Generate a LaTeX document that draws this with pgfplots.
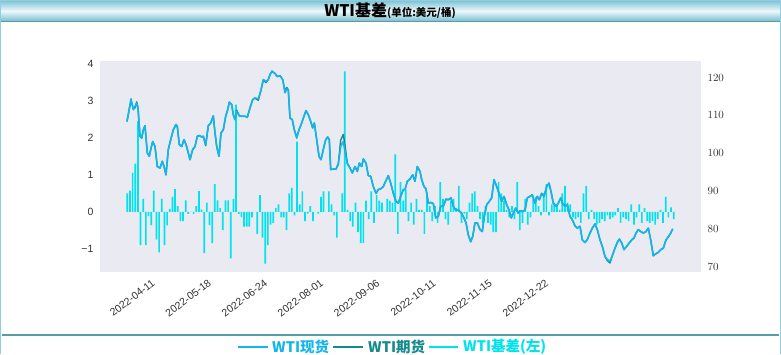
\documentclass[border=0pt]{standalone}
\usepackage{fontspec}
\setmainfont{Liberation Sans}
\newfontfamily\cjk{Noto Sans CJK SC}
\usepackage{pgfplots}
\usepackage{pgfplotstable}
\pgfplotsset{compat=1.18}
\definecolor{spotc}{RGB}{18,182,234}
\definecolor{futc}{RGB}{20,138,140}
\definecolor{basc}{RGB}{0,226,236}
\definecolor{bgc}{RGB}{234,234,242}
\definecolor{tickc}{RGB}{51,51,51}
\definecolor{framec}{RGB}{142,206,222}
\definecolor{sepc}{RGB}{88,156,166}
\definecolor{titletop}{RGB}{120,192,212}
\definecolor{titlemid}{RGB}{238,248,251}
\definecolor{titlebot}{RGB}{110,186,206}

\pgfplotstableread[row sep=\\]{
i v\\
0 0.5\\ 1 0.57\\ 2 1.05\\ 3 1.3\\ 4 2.45\\ 5 -0.9\\ 6 0.35\\ 7 -0.9\\ 8 -0.12\\ 9 -0.36\\
10 0.57\\ 11 -0.75\\ 12 -1.1\\ 13 0.35\\ 14 -0.9\\ 15 -0.37\\ 16 0.08\\ 17 0.4\\ 18 0.61\\ 19 0.15\\
20 -0.25\\ 21 -0.25\\ 22 0.31\\ 23 -0.06\\ 24 0\\ 25 -0.06\\ 26 0.15\\ 27 0.56\\ 28 0.06\\ 29 -1.12\\
30 0.25\\ 31 -0.36\\ 32 -0.85\\ 33 0.75\\ 34 0.31\\ 35 0.1\\ 36 -0.5\\ 37 0.31\\ 38 0.31\\ 39 -1.26\\
40 0.35\\ 41 2.9\\ 42 -0.06\\ 43 -0.14\\ 44 -0.4\\ 45 -0.4\\ 46 -0.4\\ 47 -0.15\\ 48 0\\ 49 -0.6\\
50 0.45\\ 51 -0.7\\ 52 -1.4\\ 53 -0.9\\ 54 -0.35\\ 55 -0.3\\ 56 0.1\\ 57 0.2\\ 58 -0.15\\ 59 -0.15\\
60 -0.5\\ 61 0.5\\ 62 0.65\\ 63 -0.1\\ 64 1.9\\ 65 0.2\\ 66 0.55\\ 67 -0.25\\ 68 -0.05\\ 69 0.15\\
70 -0.25\\ 71 0\\ 72 -0.05\\ 73 0.4\\ 74 0.55\\ 75 0\\ 76 0.55\\ 77 0.2\\ 78 -0.1\\ 79 -0.7\\
80 0\\ 81 0.5\\ 82 3.8\\ 83 0.05\\ 84 -0.25\\ 85 -0.4\\ 86 0.25\\ 87 -0.55\\ 88 -0.85\\ 89 -0.85\\
90 0.3\\ 91 -0.2\\ 92 0.55\\ 93 -0.3\\ 94 0.45\\ 95 0.3\\ 96 0.25\\ 97 0\\ 98 0.35\\ 99 0.3\\
100 0.25\\ 101 1.55\\ 102 -0.6\\ 103 0.8\\ 104 0.3\\ 105 0.6\\ 106 -0.25\\ 107 0.25\\ 108 -0.35\\ 109 0.35\\
110 0.05\\ 111 0.05\\ 112 -0.6\\ 113 0.5\\ 114 0.15\\ 115 -0.25\\ 116 0.15\\ 117 -0.3\\ 118 0.8\\ 119 0.35\\
120 -0.2\\ 121 -0.35\\ 122 0.3\\ 123 0.35\\ 124 0.1\\ 125 0.7\\ 126 -0.3\\ 127 -0.05\\ 128 -0.2\\ 129 0.25\\
130 0.5\\ 131 0.55\\ 132 0.15\\ 133 -0.2\\ 134 -0.3\\ 135 0.15\\ 136 -0.3\\ 137 -0.35\\ 138 -0.55\\ 139 -0.55\\
140 0.8\\ 141 0.5\\ 142 0.3\\ 143 0.05\\ 144 -0.15\\ 145 0.15\\ 146 -0.2\\ 147 0.8\\ 148 -0.5\\ 149 -0.3\\
150 0.35\\ 151 -0.35\\ 152 -0.15\\ 153 0.35\\ 154 0.4\\ 155 0.15\\ 156 -0.1\\ 157 0.5\\ 158 0.75\\ 159 -0.1\\
160 0.2\\ 161 0.25\\ 162 0.2\\ 163 0.05\\ 164 0.5\\ 165 0.7\\ 166 0.25\\ 167 0.2\\ 168 -0.15\\ 169 -0.2\\
170 -0.15\\ 171 -0.3\\ 172 0.5\\ 173 0.7\\ 174 -0.2\\ 175 0.05\\ 176 -0.2\\ 177 -0.35\\ 178 -0.3\\ 179 -0.2\\
180 -0.25\\ 181 -0.1\\ 182 -0.2\\ 183 -0.15\\ 184 -0.1\\ 185 0.1\\ 186 -0.3\\ 187 -0.15\\ 188 -0.2\\ 189 -0.25\\
190 0.2\\ 191 -0.35\\ 192 -0.15\\ 193 0.2\\ 194 -0.3\\ 195 0.1\\ 196 -0.25\\ 197 -0.3\\ 198 -0.25\\ 199 -0.35\\
200 -0.2\\ 201 0.05\\ 202 -0.3\\ 203 0.4\\ 204 -0.15\\ 205 0.12\\ 206 -0.2\\
}\bars

\pgfplotstableread[row sep=\\]{
x s f\\
127 108.4 108.4\\ 131 114.4 114.0\\ 133.3 111.5 111.8\\ 135 112.4 112.0\\ 136.7 113.3 113.6\\
138 112 112\\ 140 104.5 104.5\\ 141.7 104 104\\ 143.3 106.2 106.2\\ 145 107.3 107.3\\
147.3 100.1 100.1\\ 149.3 99.2 99.2\\ 150.7 101 101\\ 152.7 103.1 103.1\\ 155 101.8 101.8\\
157.3 96.5 96.5\\ 160 96.1 96.1\\ 162.3 97.9 97.9\\ 164 96.5 96.5\\ 166 94.3 94.3\\
168.3 101 101\\ 170.7 103.6 103.6\\ 173.3 106.2 106.2\\ 176 107.6 107.6\\ 177.3 107.1 107.1\\
179.3 102.3 102.3\\ 181.7 101.8 101.8\\ 184 103.6 103.6\\ 186 102.3 102.3\\ 188.3 100.1 100.1\\
190 98.3 98.3\\ 192.7 101 101\\ 195 101.8 101.8\\ 197.3 104.5 104.5\\ 199.3 104.7 104.7\\
201.7 104.3 104.3\\ 203.3 104.5 104.5\\ 205.7 102.3 102.0\\ 208.3 107.3 107.3\\ 210.7 108 108\\
213.3 109.9 109.9\\ 215 105.4 105.4\\ 216.7 101.8 101.8\\ 219 99.2 99.2\\ 221 105.4 105.4\\
223.3 106.2 106.2\\ 225.7 109.8 109.8\\ 227.7 111.5 111.5\\ 229.3 113.5 113.5\\ 231.7 112.9 112.9\\
233.3 110.2 110.2\\ 235 108.9 108.9\\ 236.7 111.1 111.4\\ 239.3 109.9 109.9\\ 241.7 109.8 109.8\\
245 109.8 109.8\\ 247.3 109.5 109.5\\ 250 112 112\\ 252.7 114.2 114.2\\ 255 114.6 114.6\\
258.3 114.4 114.0\\ 260.7 116.4 116.4\\ 263.3 119.5 119.3\\ 266 119 118.7\\ 268.3 119.5 119.5\\
270 120.8 120.8\\ 272 121.7 121.7\\ 275 121.1 121.1\\ 277.3 120.3 120.3\\ 280 120.5 120.5\\
282.7 119.5 119.5\\ 285 116 116.4\\ 286.7 117 117.4\\ 288.3 116.8 116.8\\ 290 109.3 109.3\\
292.3 108.9 108.9\\ 294.3 106.2 106.2\\ 296.7 104 104.3\\ 299 106.2 106.2\\ 301.7 108 108\\
304 109.8 109.8\\ 306 111.3 111.3\\ 308.3 110.2 110.2\\ 310.7 108.4 108.4\\ 312.7 106.7 106.7\\
314.3 108 108\\ 316.7 103.6 103.6\\ 319 99.2 99.2\\ 321 98.3 98.3\\ 323.3 101 101\\
325.7 103.6 103.6\\ 327.7 104.3 104.3\\ 329.3 103.6 103.6\\ 330.7 95.7 95.7\\ 333.3 95.8 95.8\\
336 95.8 95.8\\ 338.3 97 97.3\\ 340.7 101.8 103.5\\ 343.3 103.1 105.0\\ 345.3 100.1 101.5\\
347.3 97.2 97.4\\ 350 96.1 96.1\\ 352.3 94.8 94.8\\ 355 96.5 96.5\\ 357.3 95.2 95.2\\
359.3 97.4 97.4\\ 361.7 96.5 96.5\\ 363.3 98.5 98.5\\ 366 97.4 97.4\\ 368.3 94.1 94.1\\
370.7 93.9 93.9\\ 373.3 91.2 91.2\\ 376 89.4 89.4\\ 378.3 90.4 90.4\\ 380.7 90.6 90.6\\
383.3 91.2 91.2\\ 385.7 92.6 92.6\\ 388.3 94.1 94.1\\ 390.7 92.1 92.1\\ 393.3 89.4 89.4\\
396 87.3 87.3\\ 398.3 86.8 86.8\\ 400.7 88.6 88.6\\ 403.3 90.4 90.4\\ 405 90.4 90.4\\
407.3 92.6 92.6\\ 410 93.2 93.2\\ 412.7 94.3 94.3\\ 415 92.6 92.6\\ 417.3 96.5 96.5\\
420 95.2 95.2\\ 421.7 93 93\\ 424 91.2 91.2\\ 426 90.6 90.6\\ 428.3 86.8 86.8\\
430.7 87 87\\ 433.3 86.7 86.7\\ 435.7 82.9 82.9\\ 438.3 83.3 83.3\\ 440.7 86 86\\
443.3 86 86\\ 446 87.9 87.9\\ 448.3 87.7 87.7\\ 451 88.2 88.2\\ 453.3 86 86\\
455.7 85 85\\ 458.3 85 85\\ 460.7 84.4 84.4\\ 463.3 83.3 83.3\\ 466 81.6 81.6\\
468.3 78.4 78.4\\ 470.7 76.6 76.6\\ 472.7 78 78\\ 475 81.6 81.6\\ 477.3 81.6 81.6\\
480 79.8 79.8\\ 482.3 79.3 79.3\\ 484.3 83.3 83.3\\ 486.7 86.4 86.4\\ 489.3 87.3 87.3\\
491.7 88.2 88.2\\ 494 93 93\\ 496.7 91.2 91.2\\ 499 89.4 89.4\\ 501.7 87.3 87.3\\
504 88.6 88.6\\ 506.7 86.4 86.4\\ 509 85 85\\ 511.3 82.9 82.9\\ 513.3 84.2 84.2\\
515.7 85.5 85.5\\ 518 84.2 84.2\\ 520 84.8 84.8\\ 522.3 84.6 84.6\\ 525 85 85\\
527.3 88.2 88.2\\ 530 88.6 88.6\\ 532.3 89 89\\ 535 86.8 86.8\\ 537.3 88.6 88.6\\
539.3 87.7 87.7\\ 541.7 89.4 89.4\\ 544 88.6 88.6\\ 546.7 91.2 91.2\\ 549 92.1 92.1\\
551 89.9 89.9\\ 553.3 86.8 86.8\\ 556 86 86\\ 558.3 86.8 86.8\\ 560.7 88.2 88.2\\
562.7 86.7 86.7\\ 565 86 86\\ 567.3 86.4 86.4\\ 570 83.3 83.3\\ 572.3 82.4 82.4\\
575 80.8 80.8\\ 577.3 80.2 80.2\\ 580 80.7 80.7\\ 582.3 77.1 77.1\\ 585 76.4 76.4\\
587.3 77.2 77.2\\ 590 78.9 78.9\\ 592.3 80.2 80.2\\ 595 81.3 81.3\\ 597.3 79.8 79.8\\
600 77.1 77.1\\ 602.3 75.4 75.4\\ 605 72.7 72.7\\ 607.3 71.9 71.6\\ 610 71.4 71.0\\
612.7 73.2 73.2\\ 615 74.9 74.9\\ 617.3 76.4 76.4\\ 619.3 77.3 77.3\\ 621.7 76.3 76.3\\
624 74.5 74.5\\ 626.7 75.4 75.4\\ 629.3 76.3 76.3\\ 631.7 77.1 77.1\\ 634 77.6 77.6\\
636 78.9 78.9\\ 638.3 79.8 79.8\\ 640.7 79.3 79.3\\ 643.3 78.9 78.9\\ 646 79.3 79.3\\
648.3 80.2 80.2\\ 650.7 77.1 77.1\\ 653.3 72.9 72.9\\ 655.7 73.4 73.4\\ 658.3 73.8 73.8\\
660.7 74.5 74.5\\ 663.3 74.9 74.9\\ 666 77.1 77.1\\ 668.3 77.9 77.9\\ 670.7 78.9 78.9\\
672.7 80 80\\
}\lines

\begin{document}
\begin{tikzpicture}[x=1pt,y=1pt]
\useasboundingbox (0,0) rectangle (781,354);
\fill[white] (0,0) rectangle (781,354);
% title bar
\shade[top color=titletop, bottom color=titlebot, middle color=titlemid] (0,332) rectangle (781,354);
\draw[sepc, line width=1pt] (0,332) -- (781,332);
\draw[framec, line width=2.5pt] (0,0) -- (0,354);
\draw[framec, line width=2.5pt] (781,0) -- (781,354);
\draw[framec, line width=1pt] (0,353.5) -- (781,353.5);
\node[anchor=base] at (390,337) {\cjk\bfseries\fontsize{16}{16}\selectfont WTI基差{\fontsize{10.5}{10.5}\selectfont(单位:美元/桶)}};
% legend separator
\draw[sepc, line width=1.2pt] (2,19) -- (779,19);

\begin{axis}[
  at={(100pt,82pt)}, anchor=south west, scale only axis,
  width=601pt, height=211pt,
  xmin=-10.3, xmax=216.3, ymin=-1.63, ymax=4.08,
  axis background/.style={fill=bgc},
  axis line style={draw=none},
  major tick length=0pt,
  ytick={-1,0,1,2,3,4}, yticklabels={−1,0,1,2,3,4},
  xtick={8.7,29.9,51.1,72.2,93.4,114.6,135.8,157.0},
  xticklabels={2022-04-11,2022-05-18,2022-06-24,2022-08-01,2022-09-06,2022-10-11,2022-11-15,2022-12-22},
  xticklabel style={rotate=37, anchor=north east, font=\fontsize{10.5}{11}\selectfont, text=tickc, yshift=-2.5pt},
  yticklabel style={font=\fontsize{10.5}{10.5}\selectfont, text=tickc, xshift=-3pt},
]
\addplot[ybar, bar width=0.64, fill=basc, draw=none] table[x=i,y=v]{\bars};
\end{axis}

\begin{axis}[
  at={(100pt,82pt)}, anchor=south west, scale only axis,
  width=601pt, height=211pt,
  xmin=100, xmax=701, ymin=68.6, ymax=124.4,
  axis y line*=right, hide x axis,
  axis line style={draw=none},
  major tick length=0pt,
  ytick={70,80,90,100,110,120},
  yticklabel style={font=\fontsize{10.5}{10.5}\selectfont, text=tickc, xshift=3pt},
]
\addplot[futc, line width=1.4pt, line join=round] table[x=x,y=f]{\lines};
\addplot[spotc, line width=1.6pt, line join=round] table[x=x,y=s]{\lines};
\end{axis}

% legend
\draw[spotc, line width=1.6pt] (238,7) -- (268,7);
\node[anchor=west, inner sep=0pt, text=spotc] at (272,7.5) {\cjk\bfseries\fontsize{14.5}{14.5}\selectfont WTI现货};
\draw[futc, line width=1.6pt] (333,7) -- (363,7);
\node[anchor=west, inner sep=0pt, text=futc] at (368,7.5) {\cjk\bfseries\fontsize{14.5}{14.5}\selectfont WTI期货};
\draw[basc, line width=1.6pt] (429,7) -- (458,7);
\node[anchor=west, inner sep=0pt, text=basc] at (463,7.5) {\cjk\bfseries\fontsize{14.5}{14.5}\selectfont WTI基差(左)};
\end{tikzpicture}
\end{document}
